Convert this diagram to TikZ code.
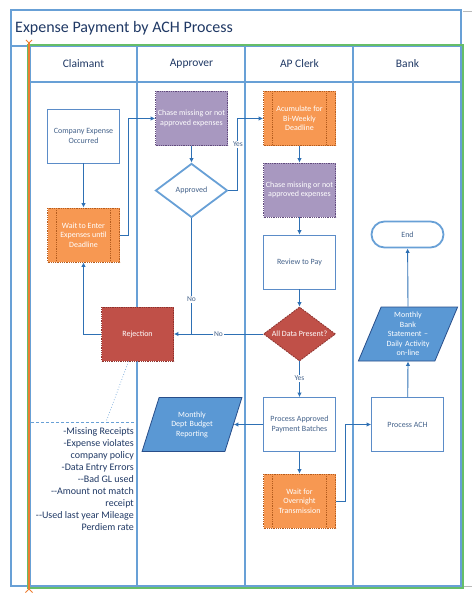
\documentclass[tikz,border=0pt]{standalone}
\usepackage{xcolor}
\usepackage{fontspec}
\setmainfont{Carlito}
\usetikzlibrary{shapes.geometric,arrows.meta}

\definecolor{laneblue}{RGB}{104,160,214}
\definecolor{swimgreen}{RGB}{102,190,104}
\definecolor{tickorange}{RGB}{237,125,49}
\definecolor{boxline}{RGB}{91,140,200}
\definecolor{boxtext}{RGB}{68,98,138}
\definecolor{headtext}{RGB}{31,56,100}
\definecolor{arrowblue}{RGB}{46,112,180}
\definecolor{waitfill}{RGB}{247,152,82}
\definecolor{waitline}{RGB}{180,92,30}
\definecolor{chasefill}{RGB}{168,152,192}
\definecolor{chaseline}{RGB}{96,74,123}
\definecolor{rejfill}{RGB}{192,80,72}
\definecolor{rejline}{RGB}{140,50,46}
\definecolor{parfill}{RGB}{90,152,212}
\definecolor{parline}{RGB}{40,78,138}

\begin{document}
\begin{tikzpicture}[x=1pt,y=-1pt,
	lane/.style={draw=laneblue,line width=2.4pt},
	swim/.style={draw=swimgreen,line width=1.6pt},
	tick/.style={draw=tickorange,line width=1.8pt},
	heading/.style={anchor=west,inner sep=0pt,text=headtext,font=\fontsize{16}{19}\selectfont},
	head/.style={text=headtext,font=\fontsize{11.5}{14}\selectfont},
	box/.style={draw=boxline,fill=white,line width=0.8pt,minimum width=72pt,minimum height=54pt,
		inner sep=1pt,align=center,text=boxtext,font=\fontsize{8}{9.5}\selectfont},
	waitbox/.style={box,draw=waitline,densely dotted,fill=waitfill,text=white,
		path picture={\draw[waitline,densely dotted,line width=0.8pt]
			([xshift=9pt]path picture bounding box.north west) -- ([xshift=9pt]path picture bounding box.south west)
			([xshift=-9pt]path picture bounding box.north east) -- ([xshift=-9pt]path picture bounding box.south east);}},
	chasebox/.style={box,draw=chaseline,densely dotted,fill=chasefill,text=white},
	rejbox/.style={box,draw=rejline,densely dotted,fill=rejfill,text=white},
	decide/.style={diamond,aspect=1.33,minimum width=72pt,minimum height=54pt,inner sep=1pt,
		draw=laneblue,line width=1.8pt,fill=white,text=boxtext,font=\fontsize{8}{9.5}\selectfont},
	reddecide/.style={decide,draw=rejline,densely dotted,line width=0.8pt,fill=rejfill,text=white},
	report/.style={trapezium,trapezium left angle=66,trapezium right angle=114,trapezium stretches=true,
		minimum width=100pt,minimum height=54pt,inner sep=1pt,text width=46pt,align=center,
		draw=parline,line width=0.8pt,fill=parfill,text=white,font=\fontsize{8}{9.5}\selectfont},
	endbox/.style={draw=laneblue,line width=1.8pt,rounded corners=13pt,fill=white,minimum width=72pt,
		minimum height=26pt,text=boxtext,font=\fontsize{8}{9.5}\selectfont},
	flow/.style={draw=arrowblue,line width=0.9pt,-{Latex[length=4.5pt,width=4.5pt]}},
	link/.style={draw=arrowblue,line width=0.9pt},
	lbl/.style={fill=white,inner sep=1pt,text=boxtext,font=\fontsize{7.5}{9}\selectfont},
	note/.style={draw=laneblue,line width=0.7pt}
	]
	\newcommand\colC{83.5}
	\newcommand\colA{191.5}
	\newcommand\colP{299.5}
	\newcommand\colB{407.5}
	\newcommand\hd{82}
	\useasboundingbox (0,0) rectangle (472,599);

	% frame and lanes
	\draw[lane] (11,10) rectangle (461,586);
	\draw[lane] (11,46) -- (461,46);
	\draw[lane] (30,\hd) -- (461,\hd);
	\foreach \x in {30,137,245,353} \draw[lane] (\x,46) -- (\x,586);
	\draw[gray!55,line width=0.6pt] (463,11) -- (472,11) (463,586) -- (472,586);
	\draw[swim] (28,45) rectangle (463,588);
	\draw[tick] (29,42) -- (29,590);
	\draw[tick,line width=1pt] (26,40) -- (29,43) -- (32,40); % top cap
	\draw[tick,line width=1pt] (25.5,592.5) -- (29,589) -- (32.5,592.5); % bottom cap

	\node[heading] (ttl) at (15,28) {Expense Payment by ACH Process};
	\node[head] (hCl) at (\colC,64) {Claimant};
	\node[head] (hAp) at (\colA,64) {Approver};
	\node[head] (hAc) at (\colP,64) {AP Clerk};
	\node[head] (hBk) at (\colB,64) {Bank};

	% claimant
	\node[box] (cExp) at (\colC,136) {Company Expense\\Occurred};
	\node[waitbox] (wEnter) at (\colC,235) {Wait to Enter\\Expenses until\\Deadline};
	\node[rejbox] (rej) at (137.5,334) {Rejection};

	% approver
	\node[chasebox] (chaseA) at (\colA,118.5) {Chase missing or not\\approved expenses};
	\node[decide] (appr) at (\colA,190.5) {Approved};
	\node[report] (budget) at (192,424.5) {Monthly\\Dept Budget\\Reporting};

	% ap clerk
	\node[waitbox] (accum) at (\colP,118.5) {Acumulate for\\Bi-Weekly\\Deadline};
	\node[chasebox] (chaseC) at (\colP,190) {Chase missing or not\\approved expenses};
	\node[box] (review) at (\colP,262) {Review to Pay};
	\node[reddecide] (allData) at (\colP,334) {All Data Present?};
	\node[box] (procB) at (\colP,424.5) {Process Approved\\Payment Batches};
	\node[waitbox] (wOver) at (\colP,501) {Wait for\\Overnight\\Transmission};

	% bank
	\node[endbox] (endN) at (\colB,234.5) {End};
	\node[report] (bank) at (408,334) {Monthly\\Bank\\Statement –\\Daily Activity\\on-line};
	\node[box] (ach) at (\colB,424.5) {Process ACH};

	% connectors
	\draw[flow] (cExp) -- (wEnter);
	\draw[flow] (wEnter.east) -- ++(8.5,0) |- (chaseA.west);
	\draw[flow] (chaseA) -- (appr);
	\draw[flow] (appr.east) -- ++(9.5,0) |- (accum.west) node[lbl,pos=0.32] {Yes};
	\draw[flow] (accum) -- (chaseC);
	\draw[flow] (chaseC) -- (review);
	\draw[flow] (review) -- (allData);
	\draw[link] (appr.south) -- (appr.south |- rej.east) node[lbl,pos=0.7] {No};
	\draw[flow] (allData.west) -- (rej.east) node[lbl,pos=0.5] {No};
	\draw[flow] (rej.west) -| (wEnter.south);
	\draw[flow] (allData) -- (procB) node[lbl,pos=0.47] {Yes};
	\draw[flow] (procB.west) -- (budget.east);
	\draw[flow] (procB) -- (wOver);
	\draw[flow] (wOver.east) -- ++(9.5,0) |- (ach.west);
	\draw[flow] (ach) -- (bank.south);
	\draw[flow] (bank.north) -- (endN);

	% rejection reasons
	\coordinate (nEnd) at (106,422);
	\draw[note,dotted] ([xshift=-9pt]rej.south) -- (nEnd);
	\draw[note,densely dashed,line width=0.5pt] (31,422) -- (135,422);
	\node[anchor=north east,inner sep=0pt,align=right,text=headtext,font=\fontsize{10}{12}\selectfont] (why) at (134,427)
		{-Missing Receipts\\-Expense violates\\company policy\\-Data Entry Errors\\-{}-Bad GL used\\-{}-Amount not match\\receipt\\-{}-Used last year Mileage\\Perdiem rate};
\end{tikzpicture}
\end{document}
